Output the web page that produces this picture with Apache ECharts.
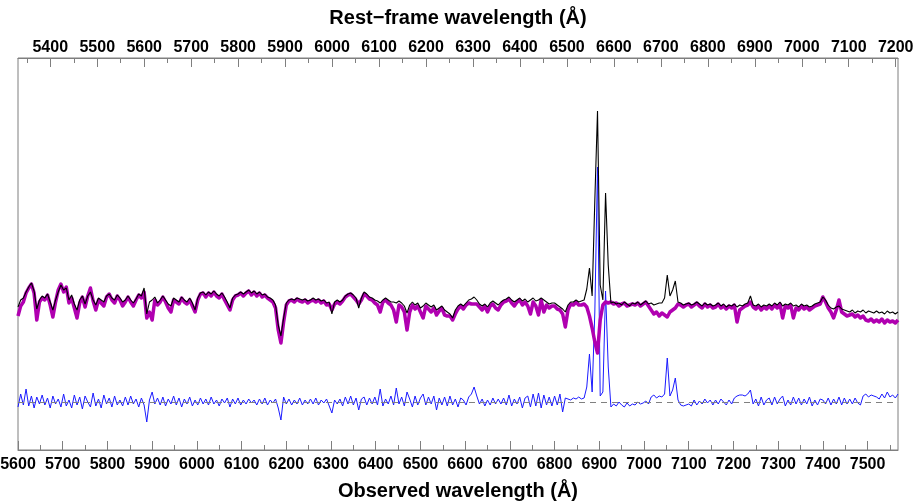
<!DOCTYPE html>
<html>
<head>
<meta charset="utf-8">
<script src="https://cdn.jsdelivr.net/npm/echarts@6/dist/echarts.min.js"></script>
<style>
html, body { margin: 0; padding: 0; background: #fff; }
#chart { width: 915px; height: 503px; }
</style>
</head>
<body>
<div id="chart"></div>
<script>
// spectrum sampled every 6 A from 5600 A (observed frame)
const redshift = 0.0504;
const waveStart = 5600;
const waveStep = 6;
const waveMax = 7568;

// observed flux (black)
const observedFlux = [
	14.3, 15.0, 15.2, 15.8, 16.3, 16.7, 15.9, 14.1, 15.0, 15.4,
	15.2, 15.6, 14.8, 14.0, 15.0, 15.8, 16.5, 16.0, 16.2, 15.0,
	15.5, 14.6, 14.0, 15.0, 15.4, 14.6, 15.4, 15.8, 15.0, 14.5,
	15.2, 15.0, 14.8, 15.4, 15.6, 15.2, 15.0, 15.5, 15.2, 14.8,
	15.0, 15.4, 15.0, 14.7, 15.1, 15.6, 15.4, 16.2, 13.6, 14.8,
	15.0, 15.3, 14.7, 15.0, 15.4, 15.0, 14.6, 14.4, 15.2, 15.0,
	14.8, 15.3, 15.0, 14.8, 15.2, 14.7, 14.0, 15.2, 15.7, 15.8,
	15.5, 15.8, 15.6, 15.9, 15.6, 15.4, 15.7, 15.3, 14.8, 14.2,
	15.2, 15.5, 15.6, 15.8, 15.6, 15.8, 16.0, 15.7, 15.9, 15.6,
	15.8, 15.5, 15.6, 15.3, 15.2, 15.0, 14.5, 12.5, 11.4, 13.2,
	14.7, 15.0, 15.1, 15.0, 15.2, 15.1, 15.0, 15.1, 14.9, 15.0,
	15.2, 15.0, 15.1, 14.9, 15.0, 14.7, 14.8, 13.6, 14.8, 15.0,
	14.8, 15.0, 15.4, 15.6, 15.7, 15.5, 15.2, 14.2, 15.2, 15.8,
	15.6, 15.3, 15.2, 15.0, 14.9, 14.7, 15.0, 15.2, 15.0, 14.8,
	14.8, 14.7, 14.9, 14.7, 14.4, 13.7, 14.5, 14.8, 14.5, 14.7,
	14.2, 14.4, 14.7, 14.5, 14.3, 14.5, 14.0, 14.2, 14.4, 14.0,
	13.8, 13.6, 13.2, 14.0, 14.4, 14.6, 14.4, 14.7, 15.0, 15.1,
	15.3, 15.0, 14.6, 14.4, 14.6, 14.3, 14.7, 14.9, 14.7, 14.5,
	14.8, 15.0, 15.1, 15.3, 15.0, 14.8, 15.0, 15.2, 14.9, 15.1,
	14.8, 15.0, 15.2, 14.9, 15.0, 15.2, 15.0, 14.8, 14.6, 14.7,
	14.7, 14.5, 14.3, 14.1, 13.8, 14.5, 14.8, 14.8, 15.0, 14.8,
	14.9, 15.0, 16.1, 18.2, 15.4, 25.0, 33.9, 16.5, 15.0, 25.7,
	18.5, 14.7, 14.8, 14.6, 14.7, 14.5, 14.8, 14.6, 14.4, 14.7,
	14.6, 14.8, 14.5, 14.7, 14.9, 14.6, 14.7, 14.5, 14.6, 14.7,
	14.7, 15.2, 17.5, 15.4, 16.0, 16.9, 14.8, 14.7, 14.5, 14.6,
	14.7, 14.5, 14.6, 14.8, 14.6, 14.4, 14.7, 14.5, 14.6, 14.4,
	14.5, 14.7, 14.4, 14.6, 14.3, 14.5, 14.4, 14.6, 14.3, 14.5,
	14.4, 14.6, 14.7, 15.4, 14.5, 14.4, 14.6, 14.3, 14.5, 14.4,
	14.6, 14.4, 14.7, 14.5, 14.8, 14.4, 14.6, 14.5, 14.7, 14.4,
	14.5, 14.3, 14.6, 14.4, 14.5, 14.3, 14.4, 14.6, 14.7, 14.8,
	15.3, 15.0, 14.5, 14.2, 14.1, 14.3, 14.4, 14.1, 14.0, 13.9,
	13.8, 14.0, 13.7, 13.9, 13.8, 14.0, 13.7, 13.9, 13.8, 13.7,
	13.9, 13.7, 13.8, 13.6, 13.9, 13.7, 13.8, 13.6, 13.8
];

// stellar model (magenta)
const modelFlux = [
	13.4, 14.4, 14.8, 15.7, 16.2, 16.6, 15.7, 13.0, 14.8, 15.2,
	15.0, 15.5, 14.5, 13.3, 14.8, 16.0, 16.6, 15.8, 16.3, 14.7,
	15.2, 14.2, 13.2, 14.7, 15.3, 14.3, 15.4, 16.2, 14.9, 14.0,
	15.0, 14.7, 14.4, 15.3, 15.6, 15.0, 14.7, 15.4, 15.0, 14.4,
	14.8, 15.3, 14.8, 14.4, 15.0, 15.5, 15.2, 15.8, 13.2, 13.8,
	13.0, 15.0, 14.5, 14.8, 15.3, 14.8, 14.2, 13.8, 15.0, 14.8,
	14.6, 15.2, 14.8, 14.6, 15.0, 14.4, 13.8, 15.0, 15.6, 15.7,
	15.3, 15.7, 15.4, 15.8, 15.4, 15.2, 15.6, 15.0, 14.5, 14.0,
	15.0, 15.4, 15.5, 15.7, 15.4, 15.7, 15.9, 15.5, 15.8, 15.4,
	15.7, 15.3, 15.5, 15.2, 15.0, 14.8, 14.2, 12.0, 10.7, 12.8,
	14.5, 14.9, 15.0, 14.8, 15.1, 14.9, 14.8, 15.0, 14.7, 14.9,
	15.0, 14.8, 15.0, 14.7, 14.9, 14.5, 14.6, 14.0, 14.6, 14.8,
	14.6, 14.9, 15.3, 15.5, 15.6, 15.3, 15.0, 14.6, 15.0, 15.6,
	15.4, 15.1, 15.0, 14.7, 14.5, 13.8, 14.8, 15.0, 14.7, 14.5,
	14.0, 12.8, 14.5, 14.3, 13.8, 12.0, 13.8, 14.5, 14.1, 14.4,
	13.8, 13.2, 14.4, 14.1, 13.8, 14.2, 13.5, 13.9, 14.2, 13.5,
	13.4, 13.4, 13.0, 13.6, 14.1, 14.4, 14.1, 14.5, 14.7, 14.6,
	14.6, 14.6, 14.3, 14.0, 14.4, 13.8, 14.4, 14.6, 14.2, 14.0,
	14.5, 14.8, 14.9, 15.1, 14.7, 14.4, 14.8, 15.0, 14.5, 14.8,
	14.4, 13.6, 14.8, 14.4, 13.5, 15.0, 13.8, 14.5, 14.2, 14.4,
	14.4, 14.1, 14.0, 13.6, 12.3, 14.0, 14.6, 14.5, 14.8, 14.5,
	14.5, 14.6, 14.3, 13.4, 12.2, 10.8, 9.7, 13.0, 14.5, 14.8,
	14.7, 14.8, 14.6, 14.7, 14.4, 14.6, 14.7, 14.4, 14.5, 14.6,
	14.5, 14.7, 14.4, 14.6, 14.8, 14.4, 14.0, 13.6, 13.8, 13.4,
	13.7, 13.5, 13.3, 13.8, 14.0, 14.2, 14.6, 14.5, 14.3, 14.5,
	14.6, 14.3, 14.5, 14.7, 14.4, 14.2, 14.6, 14.3, 14.5, 14.2,
	14.3, 14.6, 14.2, 14.4, 14.1, 14.4, 14.2, 14.5, 12.8, 14.0,
	14.2, 14.4, 14.5, 14.8, 14.3, 14.1, 14.4, 14.0, 14.3, 14.1,
	14.4, 14.1, 14.5, 14.2, 14.6, 13.2, 14.4, 14.2, 14.5, 13.2,
	14.2, 14.0, 14.4, 14.1, 14.3, 14.0, 14.2, 14.4, 14.5, 14.6,
	15.3, 14.8, 14.2, 13.8, 13.2, 14.0, 15.0, 13.8, 13.6, 13.4,
	13.5, 13.6, 13.3, 13.5, 13.2, 13.4, 13.0, 12.9, 13.1, 12.8,
	13.0, 12.8, 13.1, 12.7, 13.0, 12.8, 12.9, 12.7, 13.0
];

// residual = observed - model (blue), drawn shifted down by residualOffset
const residualFlux = [
	-0.5, 0.8, -0.3, 1.3, -0.4, 0.6, -0.6, 0.5, -0.2, 0.7,
	-0.3, 0.4, -0.6, 0.6, -0.2, 0.3, -0.5, 0.8, -0.4, 0.2,
	-0.6, 0.7, -0.3, 0.5, -0.7, 0.6, 0.0, -0.5, 0.9, -0.4,
	0.3, -0.6, 0.7, -0.2, 0.4, -0.5, 0.6, -0.3, 0.2, -0.4,
	0.5, -0.3, 0.6, -0.2, 0.3, -0.5, 0.4, -0.3, -2.0, 0.2,
	1.0, -0.2, 0.4, -0.3, 0.5, -0.4, 0.3, -0.2, 0.6, -0.3,
	0.4, -0.5, 0.3, -0.2, 0.5, -0.4, 0.2, -0.3, 0.4, -0.2,
	0.3, -0.3, 0.5, -0.2, 0.2, -0.4, 0.3, -0.1, 0.4, -0.5,
	0.3, -0.2, 0.4, -0.3, 0.2, -0.2, 0.3, -0.1, 0.2, -0.3,
	0.3, -0.2, 0.4, -0.3, 0.2, -0.1, 0.3, -0.6, -1.8, 0.5,
	-0.2, 0.3, -0.3, 0.2, -0.2, 0.4, -0.3, 0.2, -0.2, 0.3,
	-0.2, 0.4, -0.3, 0.2, -0.1, 0.3, -0.4, -1.1, 0.2, -0.2,
	0.3, -0.4, 0.5, -0.2, 0.6, -0.3, 0.4, -0.8, 0.3, 0.5,
	-0.3, 0.4, -0.2, 0.5, -0.3, 1.3, -0.4, 0.3, -0.2, 0.6,
	-0.3, 1.4, -0.2, 0.5, -0.4, 1.0, 0.3, -0.5, 0.6, -0.3,
	0.4, 0.8, -0.3, 0.5, -0.2, 0.6, -0.8, 0.4, -0.3, 0.5,
	-0.4, 0.6, -0.3, 0.3, -0.5, 0.4, 0.2, -0.3, 0.5, 0.8,
	1.5, 0.6, -0.2, 0.3, -0.4, 0.2, -0.3, 0.4, -0.2, 0.3,
	-0.2, 0.4, -0.3, 0.7, -0.4, 0.3, -0.2, 0.5, -0.6, 0.4,
	0.6, -0.5, 0.8, -0.4, 0.9, -0.6, 0.7, -0.3, 0.5, -0.4,
	0.6, -0.3, 0.8, -1.0, 0.4, 0.3, 0.2, 0.4, 0.3, 0.5,
	0.3, 0.4, 1.5, 4.8, 1.0, 9.0, 23.5, 0.6, 1.0, 11.1,
	3.5, -0.5, -0.2, -0.4, 0.0, -0.3, -0.5, -0.1, -0.4, -0.2,
	-0.3, 0.0, -0.2, -0.1, 0.1, -0.2, 0.5, 0.7, 0.4, 0.6,
	0.5, 0.8, 4.4, 0.6, 1.2, 2.4, 0.2, -0.3, -0.4, -0.3,
	-0.2, -0.4, 0.2, -0.3, 0.1, -0.2, 0.3, -0.1, 0.2, -0.3,
	0.2, -0.2, 0.3, 0.0, -0.3, 0.2, -0.2, 0.4, 0.6, 0.7,
	0.7, 0.6, 0.8, 1.2, -0.2, 0.3, -0.4, 0.5, -0.3, 0.2,
	0.4, -0.3, 0.5, -0.2, 0.3, 0.6, -0.4, 0.2, -0.3, 0.5,
	-0.2, 0.4, -0.3, 0.3, -0.2, 0.5, -0.4, 0.2, -0.3, 0.3,
	0.2, -0.2, 0.4, -0.3, 0.3, -0.2, 0.5, -0.3, 0.4, -0.2,
	0.3, -0.2, 0.4, -0.1, -0.3, 0.6, 0.8, 0.5, 0.7, 0.6,
	0.5, 0.3, 0.8, 0.4, 1.0, 0.5, 0.7, 0.4, 0.8
];
const residualOffset = 4.8;

// tick labels
const obsLabels = [5600, 5700, 5800, 5900, 6000, 6100, 6200, 6300, 6400, 6500, 6600, 6700, 6800, 6900, 7000, 7100, 7200, 7300, 7400, 7500];
const obsMinor = [5650, 5750, 5850, 5950, 6050, 6150, 6250, 6350, 6450, 6550, 6650, 6750, 6850, 6950, 7050, 7150, 7250, 7350, 7450, 7550];
const restLabels = [5400, 5500, 5600, 5700, 5800, 5900, 6000, 6100, 6200, 6300, 6400, 6500, 6600, 6700, 6800, 6900, 7000, 7100, 7200];
const restMinor = [5350, 5450, 5550, 5650, 5750, 5850, 5950, 6050, 6150, 6250, 6350, 6450, 6550, 6650, 6750, 6850, 6950, 7050, 7150];

const toPairs = (arr, shift) => arr.map((v, i) => [waveStart + i * waveStep, v + shift]);

const font = '"Liberation Sans", Arial, Helvetica, sans-serif';
const lineGray = "#7f7f7f";
const restMin = waveStart / (1 + redshift);
const restMax = waveMax / (1 + redshift);

const labelStyle = { color: "#000", fontFamily: font, fontWeight: "bold", fontSize: 16, formatter: v => String(Math.round(v)) };
const nameStyle = { color: "#000", fontFamily: font, fontWeight: "bold", fontSize: 20 };

const chart = echarts.init(document.getElementById("chart"));
const option = {
	animation: false,
	grid: {
		left: 18, right: 17, top: 58, bottom: 53,
		containLabel: false, outerBoundsMode: "none",
		show: true, borderColor: lineGray, borderWidth: 1
	},
	xAxis: [
		{
			type: "value", position: "bottom", min: waveStart, max: waveMax,
			name: "Observed wavelength (Å)", nameLocation: "middle", nameGap: 31, nameTextStyle: nameStyle,
			axisLine: { lineStyle: { color: lineGray } },
			axisTick: { inside: true, length: 9, customValues: obsLabels, lineStyle: { color: lineGray } },
			axisLabel: Object.assign({ margin: 7, customValues: obsLabels }, labelStyle),
			splitLine: { show: false }
		},
		{
			type: "value", position: "bottom", min: waveStart, max: waveMax,
			axisLine: { show: false },
			axisTick: { inside: true, length: 5, customValues: obsMinor, lineStyle: { color: lineGray } },
			axisLabel: { show: false },
			splitLine: { show: false }
		},
		{
			type: "value", position: "top", min: restMin, max: restMax,
			name: "Rest−frame wavelength (Å)", nameLocation: "middle", nameGap: 30, nameTextStyle: nameStyle,
			axisLine: { lineStyle: { color: lineGray } },
			axisTick: { inside: true, length: 9, customValues: restLabels, lineStyle: { color: lineGray } },
			axisLabel: Object.assign({ margin: 2, customValues: restLabels }, labelStyle),
			splitLine: { show: false }
		},
		{
			type: "value", position: "top", min: restMin, max: restMax,
			axisLine: { show: false },
			axisTick: { inside: true, length: 5, customValues: restMinor, lineStyle: { color: lineGray } },
			axisLabel: { show: false },
			splitLine: { show: false }
		}
	],
	yAxis: {
		type: "value", min: 0, max: 39.2,
		axisLine: { show: false }, axisTick: { show: false }, axisLabel: { show: false }, splitLine: { show: false }
	},
	series: [
		{
			name: "zero", type: "line", data: [], z: 1, silent: true,
			markLine: {
				silent: true, symbol: ["none", "none"], label: { show: false },
				lineStyle: { color: "#808080", type: [6, 5], width: 1 },
				data: [{ yAxis: residualOffset }]
			}
		},
		{
			name: "residual", type: "line", data: toPairs(residualFlux, residualOffset), z: 2,
			showSymbol: false, symbol: "none", silent: true, sampling: "none",
			lineStyle: { color: "#1a1aff", width: 1 }
		},
		{
			name: "model", type: "line", data: toPairs(modelFlux, 0), z: 3,
			showSymbol: false, symbol: "none", silent: true,
			lineStyle: { color: "#b000b0", width: 3.5, join: "round" }
		},
		{
			name: "observed", type: "line", data: toPairs(observedFlux, 0), z: 4,
			showSymbol: false, symbol: "none", silent: true,
			lineStyle: { color: "#000", width: 1.1 }
		}
	]
};
chart.setOption(option);
</script>
</body>
</html>
